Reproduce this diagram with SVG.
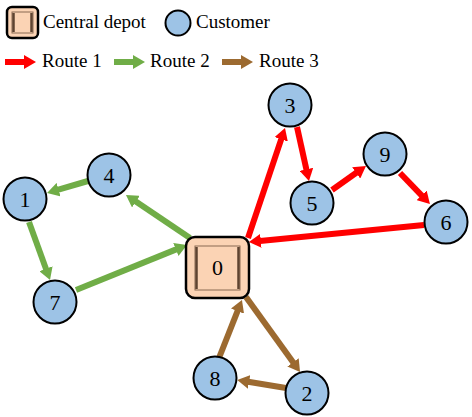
<svg xmlns="http://www.w3.org/2000/svg" width="472" height="417" viewBox="0 0 472 417">
<style>
.t{font-family:"Liberation Serif","Times New Roman",serif;fill:#000}
.lg{font-size:19px}
.nd{font-size:22px;text-anchor:middle}
.cust{fill:#9DC3E6;stroke:#000;stroke-width:2}
.dep{fill:#FBD3B4;stroke:#000;stroke-width:2.5}
.bev{fill:none;stroke:#8a6a52;stroke-width:1}
.bevd{stroke:#5e4330;stroke-width:2.5}
.r{stroke:#FF0000;stroke-width:6;fill:none}
.g{stroke:#70AD47;stroke-width:6;fill:none}
.b{stroke:#9C6A30;stroke-width:6;fill:none}
</style>
<defs>
<marker id="ar" viewBox="0 0 12 14" refX="1" refY="7" markerWidth="12" markerHeight="14" markerUnits="userSpaceOnUse" orient="auto"><path d="M0,0 L12,7 L0,14 z" fill="#FF0000"/></marker>
<marker id="ag" viewBox="0 0 12 14" refX="1" refY="7" markerWidth="12" markerHeight="14" markerUnits="userSpaceOnUse" orient="auto"><path d="M0,0 L12,7 L0,14 z" fill="#70AD47"/></marker>
<marker id="ab" viewBox="0 0 12 14" refX="1" refY="7" markerWidth="12" markerHeight="14" markerUnits="userSpaceOnUse" orient="auto"><path d="M0,0 L12,7 L0,14 z" fill="#9C6A30"/></marker>
</defs>

<g id="legend">
<g id="legend-depot">
<rect class="dep" x="7" y="7" width="31" height="31" rx="5"/>
<rect class="bev" x="12" y="12" width="21" height="21"/>
<line class="bevd" x1="13.5" y1="13" x2="13.5" y2="32"/>
<line class="bevd" x1="31.5" y1="13" x2="31.5" y2="32" stroke-width="1.5"/>
<text class="t lg" x="43" y="28">Central depot</text>
</g>
<g id="legend-customer">
<circle class="cust" cx="178" cy="23" r="12.5"/>
<text class="t lg" x="196" y="28">Customer</text>
</g>
<g id="legend-routes">
<line class="r" x1="5" y1="62" x2="25" y2="62" marker-end="url(#ar)"/>
<text class="t lg" x="42" y="67">Route 1</text>
<line class="g" x1="114" y1="62" x2="134" y2="62" marker-end="url(#ag)"/>
<text class="t lg" x="150" y="67">Route 2</text>
<line class="b" x1="222" y1="62" x2="242" y2="62" marker-end="url(#ab)"/>
<text class="t lg" x="259" y="67">Route 3</text>
</g>
</g>

<g id="connectors">
<line class="r" x1="248" y1="238" x2="281.5" y2="138.4" marker-end="url(#ar)"/>
<line class="r" x1="297" y1="127" x2="306.6" y2="170.3" marker-end="url(#ar)"/>
<line class="r" x1="332" y1="190" x2="357" y2="172.3" marker-end="url(#ar)"/>
<line class="r" x1="400" y1="173" x2="422.3" y2="196.1" marker-end="url(#ar)"/>
<line class="r" x1="424" y1="225" x2="259.9" y2="240.9" marker-end="url(#ar)"/>
<line class="g" x1="190" y1="238" x2="135.1" y2="201.1" marker-end="url(#ag)"/>
<line class="g" x1="88" y1="181" x2="57.6" y2="189.9" marker-end="url(#ag)"/>
<line class="g" x1="29" y1="222" x2="46.3" y2="269.7" marker-end="url(#ag)"/>
<line class="g" x1="76" y1="290" x2="176.8" y2="249.1" marker-end="url(#ag)"/>
<line class="b" x1="246" y1="297" x2="293.6" y2="363.1" marker-end="url(#ab)"/>
<line class="b" x1="286" y1="388" x2="248.1" y2="381.8" marker-end="url(#ab)"/>
<line class="b" x1="219" y1="358" x2="237.9" y2="310.2" marker-end="url(#ab)"/>
</g>

<g id="node-0">
<rect class="dep" x="186" y="237" width="63" height="61" rx="9"/>
<rect class="bev" x="195" y="246" width="45" height="44"/>
<line class="bevd" x1="196.5" y1="247" x2="196.5" y2="289"/>
<line class="bevd" x1="238.5" y1="247" x2="238.5" y2="289" stroke-width="1.5"/>
<text class="t nd" x="217.5" y="275">0</text>
</g>
<g id="node-1"><circle class="cust" cx="25" cy="199" r="21.5"/><text class="t nd" x="25" y="206.5">1</text></g>
<g id="node-2"><circle class="cust" cx="307" cy="393" r="21.5"/><text class="t nd" x="307" y="400.5">2</text></g>
<g id="node-3"><circle class="cust" cx="290" cy="105" r="21.5"/><text class="t nd" x="290" y="112.5">3</text></g>
<g id="node-4"><circle class="cust" cx="109" cy="175" r="21.5"/><text class="t nd" x="109" y="182.5">4</text></g>
<g id="node-5"><circle class="cust" cx="312" cy="203" r="21.5"/><text class="t nd" x="312" y="210.5">5</text></g>
<g id="node-6"><circle class="cust" cx="446" cy="222" r="21.5"/><text class="t nd" x="446" y="229.5">6</text></g>
<g id="node-7"><circle class="cust" cx="55" cy="302" r="21.5"/><text class="t nd" x="55" y="309.5">7</text></g>
<g id="node-8"><circle class="cust" cx="215" cy="378" r="21.5"/><text class="t nd" x="215" y="385.5">8</text></g>
<g id="node-9"><circle class="cust" cx="385" cy="154" r="21.5"/><text class="t nd" x="385" y="161.5">9</text></g>
</svg>
